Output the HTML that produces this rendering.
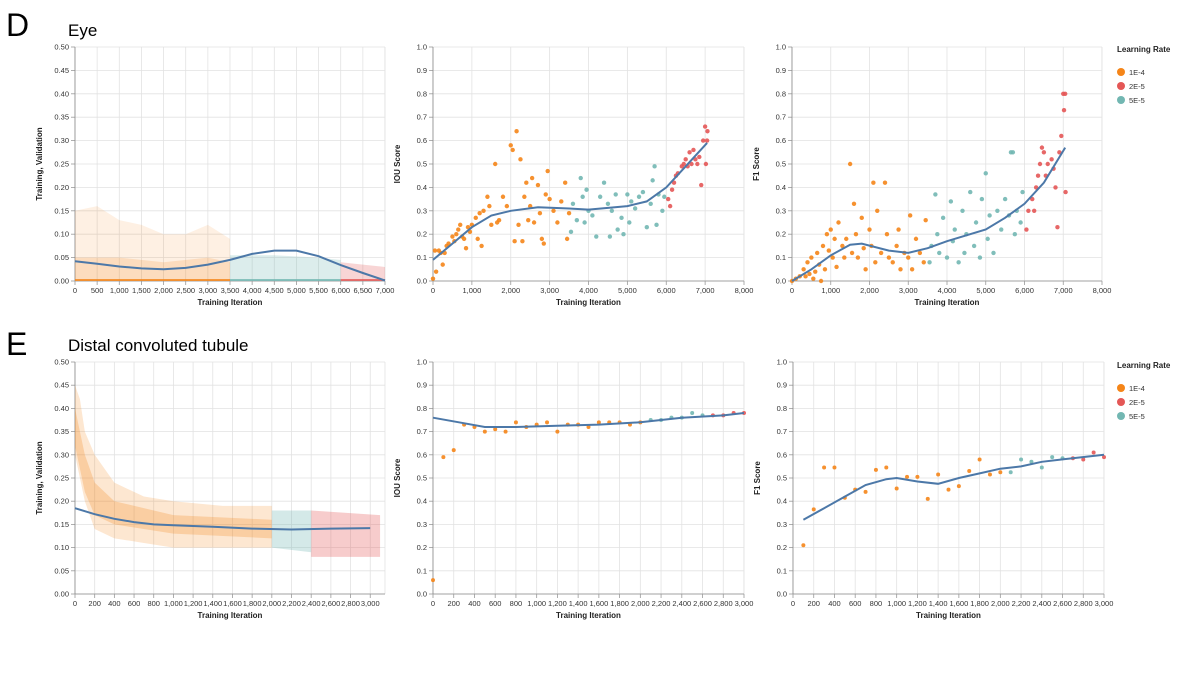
<!DOCTYPE html>
<html><head><meta charset="utf-8"><style>
body{margin:0;background:#fff;font-family:"Liberation Sans",Arial,sans-serif}
svg text{font-family:"Liberation Sans",Arial,sans-serif}
</style></head><body>
<svg id="c" width="1199" height="670" viewBox="0 0 1199 670">
<text x="6" y="36" font-size="32" fill="#000">D</text>
<text x="68" y="36" font-size="17" fill="#000">Eye</text>
<text x="6" y="355" font-size="32" fill="#000">E</text>
<text x="68" y="351" font-size="17" fill="#000">Distal convoluted tubule</text>
</svg>
<script>
// ---------- data ----------
const lrLabels=["1E-4","2E-5","5E-5"];
// Eye loss envelopes: [x, low, high]
const eyeLossOrange=[[0,0,0.15],[500,0,0.16],[1000,0,0.13],[1500,0,0.12],[2000,0,0.1],[2500,0,0.1],[3000,0,0.12],[3500,0,0.09]];
const eyeLossOrangeCore=[[0,0,0.05],[1000,0,0.05],[2000,0,0.04],[3000,0,0.05],[3500,0,0.04]];
const eyeLossTeal=[[3500,0,0.055],[4500,0,0.055],[5500,0,0.05],[6000,0,0.045]];
const eyeLossRed=[[6000,0,0.04],[6500,0,0.035],[7000,0,0.03]];
const eyeLossTrendX=[0,500,1000,1500,2000,2500,3000,3500,4000,4500,5000,5500,6000,6500,7000];
const eyeLossTrendY=[0.042,0.037,0.031,0.027,0.025,0.028,0.035,0.045,0.058,0.065,0.065,0.053,0.034,0.017,0.001];
// Distal loss envelopes
const dctLossOrange=[[0,0.3,0.45],[50,0.25,0.42],[100,0.2,0.35],[200,0.14,0.3],[400,0.12,0.24],[700,0.11,0.21],[1000,0.1,0.2],[1500,0.1,0.19],[2000,0.1,0.19]];
const dctLossOrangeCore=[[0,0.32,0.4],[100,0.22,0.3],[200,0.17,0.24],[400,0.15,0.2],[1000,0.13,0.17],[2000,0.12,0.16]];
const dctLossTeal=[[2000,0.1,0.18],[2400,0.09,0.18]];
const dctLossRed=[[2400,0.08,0.18],[3100,0.08,0.17]];
const dctLossTrendX=[0,200,400,600,800,1000,1400,1800,2200,2600,3000];
const dctLossTrendY=[0.185,0.172,0.162,0.155,0.15,0.148,0.145,0.141,0.139,0.141,0.142];
// Eye IOU scatter
const eyeIouOrange=[[0,0.01],[50,0.13],[80,0.04],[150,0.13],[200,0.12],[250,0.07],[300,0.12],[350,0.15],[400,0.16],[500,0.19],[550,0.17],[600,0.2],[650,0.22],[700,0.24],[750,0.19],[800,0.18],[850,0.14],[900,0.23],[950,0.21],[1000,0.24],[1100,0.27],[1150,0.18],[1200,0.29],[1250,0.15],[1300,0.3],[1400,0.36],[1450,0.32],[1500,0.24],[1600,0.5],[1650,0.25],[1700,0.26],[1800,0.36],[1900,0.32],[2000,0.58],[2050,0.56],[2100,0.17],[2150,0.64],[2200,0.24],[2250,0.52],[2300,0.17],[2350,0.36],[2400,0.42],[2450,0.26],[2500,0.32],[2550,0.44],[2600,0.25],[2700,0.41],[2750,0.29],[2800,0.18],[2850,0.16],[2900,0.37],[2950,0.47],[3000,0.35],[3100,0.3],[3200,0.25],[3300,0.34],[3400,0.42],[3450,0.18],[3500,0.29]];
const eyeIouTeal=[[3550,0.21],[3600,0.33],[3700,0.26],[3800,0.44],[3850,0.36],[3900,0.25],[3950,0.39],[4000,0.3],[4100,0.28],[4200,0.19],[4300,0.36],[4400,0.42],[4500,0.33],[4550,0.19],[4600,0.3],[4700,0.37],[4750,0.22],[4850,0.27],[4900,0.2],[5000,0.37],[5050,0.25],[5100,0.34],[5200,0.31],[5300,0.36],[5400,0.38],[5500,0.23],[5600,0.33],[5650,0.43],[5700,0.49],[5750,0.24],[5800,0.37],[5900,0.3],[5950,0.36]];
const eyeIouRed=[[6050,0.35],[6100,0.32],[6150,0.39],[6200,0.42],[6250,0.45],[6300,0.46],[6400,0.49],[6450,0.5],[6500,0.52],[6550,0.49],[6600,0.55],[6650,0.5],[6700,0.56],[6750,0.52],[6800,0.5],[6850,0.53],[6900,0.41],[6950,0.6],[7000,0.66],[7050,0.6],[7020,0.5],[7060,0.64]];
const eyeIouTrendX=[0,500,1000,1500,2000,2700,3500,4000,5000,5500,6000,6500,7050];
const eyeIouTrendY=[0.09,0.16,0.23,0.28,0.30,0.315,0.31,0.305,0.32,0.34,0.40,0.49,0.59];
// Eye F1 scatter
const eyeF1Orange=[[0,0],[100,0.01],[200,0.02],[300,0.05],[350,0.02],[400,0.08],[450,0.03],[500,0.1],[550,0.01],[600,0.04],[650,0.12],[700,0.07],[750,0.0],[800,0.15],[850,0.05],[900,0.2],[950,0.13],[1000,0.22],[1050,0.1],[1100,0.18],[1150,0.06],[1200,0.25],[1300,0.15],[1350,0.1],[1400,0.18],[1500,0.5],[1550,0.12],[1600,0.33],[1650,0.2],[1700,0.1],[1800,0.27],[1850,0.14],[1900,0.05],[2000,0.22],[2050,0.15],[2100,0.42],[2150,0.08],[2200,0.3],[2300,0.12],[2400,0.42],[2450,0.2],[2500,0.1],[2600,0.08],[2700,0.15],[2750,0.22],[2800,0.05],[2900,0.12],[3000,0.1],[3050,0.28],[3100,0.05],[3200,0.18],[3300,0.12],[3400,0.08],[3450,0.26]];
const eyeF1Teal=[[3550,0.08],[3600,0.15],[3700,0.37],[3750,0.2],[3800,0.12],[3900,0.27],[4000,0.1],[4100,0.34],[4150,0.17],[4200,0.22],[4300,0.08],[4400,0.3],[4450,0.12],[4500,0.2],[4600,0.38],[4700,0.15],[4750,0.25],[4850,0.1],[4900,0.35],[5000,0.46],[5050,0.18],[5100,0.28],[5200,0.12],[5300,0.3],[5400,0.22],[5500,0.35],[5600,0.28],[5650,0.55],[5700,0.55],[5750,0.2],[5800,0.3],[5900,0.25],[5950,0.38]];
const eyeF1Red=[[6050,0.22],[6100,0.3],[6200,0.35],[6250,0.3],[6300,0.4],[6350,0.45],[6400,0.5],[6450,0.57],[6500,0.55],[6550,0.45],[6600,0.5],[6700,0.52],[6750,0.48],[6800,0.4],[6850,0.23],[6900,0.55],[6950,0.62],[7000,0.8],[7050,0.8],[7020,0.73],[7060,0.38]];
const eyeF1TrendX=[0,500,1000,1500,1800,2500,3000,3500,4000,5000,5500,6000,6500,7050];
const eyeF1TrendY=[0.0,0.05,0.11,0.155,0.16,0.13,0.12,0.14,0.17,0.22,0.27,0.33,0.42,0.57];
// Distal IOU
const dctIouOrange=[[0,0.06],[100,0.59],[200,0.62],[300,0.73],[400,0.72],[500,0.7],[600,0.71],[700,0.7],[800,0.74],[900,0.72],[1000,0.73],[1100,0.74],[1200,0.7],[1300,0.73],[1400,0.73],[1500,0.72],[1600,0.74],[1700,0.74],[1800,0.74],[1900,0.73],[2000,0.74]];
const dctIouTeal=[[2100,0.75],[2200,0.75],[2300,0.76],[2400,0.76],[2500,0.78],[2600,0.77]];
const dctIouRed=[[2700,0.77],[2800,0.77],[2900,0.78],[3000,0.78]];
const dctIouTrendX=[0,250,500,800,1200,1600,2000,2400,2800,3000];
const dctIouTrendY=[0.76,0.74,0.72,0.72,0.725,0.73,0.74,0.76,0.77,0.78];
// Distal F1
const dctF1Orange=[[100,0.21],[200,0.365],[300,0.545],[400,0.545],[500,0.415],[600,0.45],[700,0.44],[800,0.535],[900,0.545],[1000,0.455],[1100,0.505],[1200,0.505],[1300,0.41],[1400,0.515],[1500,0.45],[1600,0.465],[1700,0.53],[1800,0.58],[1900,0.515],[2000,0.525]];
const dctF1Teal=[[2100,0.525],[2200,0.58],[2300,0.57],[2400,0.545],[2500,0.59],[2600,0.585]];
const dctF1Red=[[2700,0.585],[2800,0.58],[2900,0.61],[3000,0.59]];
const dctF1TrendX=[100,300,500,700,900,1000,1200,1400,1600,1800,2000,2200,2400,2600,3000];
const dctF1TrendY=[0.32,0.37,0.42,0.47,0.495,0.5,0.485,0.475,0.5,0.52,0.54,0.55,0.57,0.58,0.6];

const C={o:"#f58518",r:"#e45756",t:"#72b7b2",line:"#4c78a8"};
const svg=document.getElementById('c');
const NS="http://www.w3.org/2000/svg";
function mk(tag,attrs,parent){const e=document.createElementNS(NS,tag);for(const k in attrs)e.setAttribute(k,attrs[k]);(parent||svg).appendChild(e);return e;}
function fmt(v){return v.toLocaleString('en-US');}

function panel(p){
  const g=mk('g',{});
  
  
  const sx=v=>p.x0+(v-p.xd[0])/(p.xd[1]-p.xd[0])*(p.x1-p.x0);
  const sy=v=>p.y0-(v-p.yd[0])/(p.yd[1]-p.yd[0])*(p.y0-p.y1);
  for(let v=p.xd[0];v<=p.xTickMax+1e-9;v+=p.xStep){
    const x=sx(v);
    mk('line',{x1:x,x2:x,y1:p.y1,y2:p.y0,stroke:"#e2e2e2","stroke-width":0.8},g);
    mk('line',{x1:x,x2:x,y1:p.y0,y2:p.y0+4,stroke:"#999","stroke-width":0.8},g);
    const t=mk('text',{x:x,y:p.y0+12,"font-size":7.5,"text-anchor":"middle",fill:"#333"},g);t.textContent=fmt(v);
    
    
  }
  mk('line',{x1:p.x1,x2:p.x1,y1:p.y1,y2:p.y0,stroke:"#e2e2e2","stroke-width":0.8},g);
  const ny=Math.round((p.yd[1]-p.yd[0])/p.yStep);
  for(let i=0;i<=ny;i++){
    const v=p.yd[0]+i*p.yStep,y=sy(v);
    mk('line',{x1:p.x0,x2:p.x1,y1:y,y2:y,stroke:"#e2e2e2","stroke-width":0.8},g);
    mk('line',{x1:p.x0-4,x2:p.x0,y1:y,y2:y,stroke:"#999","stroke-width":0.8},g);
    const t=mk('text',{x:p.x0-6,y:y+2.5,"font-size":7.5,"text-anchor":"end",fill:"#333"},g);t.textContent=v.toFixed(p.yDec);
    
    
  }
  mk('line',{x1:p.x0,x2:p.x1,y1:p.y0,y2:p.y0,stroke:"#888","stroke-width":0.8},g);
  mk('line',{x1:p.x0,x2:p.x0,y1:p.y1,y2:p.y0,stroke:"#888","stroke-width":0.8},g);
  const xt=mk('text',{x:(p.x0+p.x1)/2,y:p.y0+24,"font-size":8,"font-weight":"bold","text-anchor":"middle",fill:"#222"},g);xt.textContent="Training Iteration";
  
  
  const yc=(p.y0+p.y1)/2;
  const yt=mk('text',{x:p.x0-33,y:yc,"font-size":8,"font-weight":"bold","text-anchor":"middle",fill:"#222",transform:`rotate(-90 ${p.x0-33} ${yc})`},g);yt.textContent=p.yTitle;
  
  
  (p.bands||[]).forEach(b=>{
    let pts=b.d.map(d=>sx(d[0])+","+sy(d[2]));
    pts=pts.concat(b.d.slice().reverse().map(d=>sx(d[0])+","+sy(d[1])));
    const pg=mk('polygon',{points:pts.join(" "),fill:b.c,"fill-opacity":b.o},g);
    
    
    if(b.floor){
      const base=mk('line',{x1:sx(b.d[0][0]),x2:sx(b.d[b.d.length-1][0]),y1:sy(0)-1,y2:sy(0)-1,stroke:b.c,"stroke-width":2,"stroke-opacity":0.8},g);
      
      
    }
  });
  (p.pts||[]).forEach(s=>{
    s.d.forEach(d=>{
      const c=mk('circle',{cx:sx(d[0]),cy:sy(d[1]),r:p.r||2.2,fill:s.c,"fill-opacity":0.9},g);
      
      
    });
  });
  const path=p.tx.map((x,i)=>(i?"L":"M")+sx(x).toFixed(1)+","+sy(p.ty[i]).toFixed(1)).join("");
  const ln=mk('path',{d:path,fill:"none",stroke:C.line,"stroke-width":2},g);
  
  
}
function legend(x,y){
  const g=mk('g',{});
  
  
  const t=mk('text',{x:x,y:y,"font-size":8,"font-weight":"bold",fill:"#222"},g);t.textContent="Learning Rate";
  [C.o,C.r,C.t].forEach((c,i)=>{
    const e=mk('circle',{cx:x+4,cy:y+20+i*14,r:4,fill:c},g);
    
    
    const l=mk('text',{x:x+12,y:y+23+i*14,"font-size":7.5,fill:"#333"},g);l.textContent=lrLabels[i];
    
    
  });
}
const top1={y0:281,y1:47},top2={y0:594,y1:362};
panel(Object.assign({name:"eye-loss-chart",x0:75,x1:385,xd:[0,7000],xTickMax:7000,xStep:500,yd:[0,0.5],yStep:0.05,yDec:2,yTitle:"Training, Validation",
  bands:[{d:eyeLossOrange,c:C.o,o:0.12,floor:true},{d:eyeLossOrangeCore,c:C.o,o:0.18},{d:eyeLossTeal,c:C.t,o:0.25,floor:true},{d:eyeLossRed,c:C.r,o:0.25,floor:true}],tx:eyeLossTrendX,ty:eyeLossTrendY},top1));
panel(Object.assign({name:"eye-iou-chart",x0:433,x1:744,xd:[0,8000],xTickMax:8000,xStep:1000,yd:[0,1],yStep:0.1,yDec:1,yTitle:"IOU Score",
  pts:[{d:eyeIouOrange,c:C.o},{d:eyeIouTeal,c:C.t},{d:eyeIouRed,c:C.r}],tx:eyeIouTrendX,ty:eyeIouTrendY},top1));
panel(Object.assign({name:"eye-f1-chart",x0:792,x1:1102,xd:[0,8000],xTickMax:8000,xStep:1000,yd:[0,1],yStep:0.1,yDec:1,yTitle:"F1 Score",
  pts:[{d:eyeF1Orange,c:C.o},{d:eyeF1Teal,c:C.t},{d:eyeF1Red,c:C.r}],tx:eyeF1TrendX,ty:eyeF1TrendY},top1));
panel(Object.assign({name:"distal-loss-chart",x0:75,x1:385,xd:[0,3150],xTickMax:3000,xStep:200,yd:[0,0.5],yStep:0.05,yDec:2,yTitle:"Training, Validation",
  bands:[{d:dctLossOrange,c:C.o,o:0.2},{d:dctLossOrangeCore,c:C.o,o:0.25},{d:dctLossTeal,c:C.t,o:0.3},{d:dctLossRed,c:C.r,o:0.3}],tx:dctLossTrendX,ty:dctLossTrendY},top2));
panel(Object.assign({name:"distal-iou-chart",x0:433,x1:744,xd:[0,3000],xTickMax:3000,xStep:200,yd:[0,1],yStep:0.1,yDec:1,yTitle:"IOU Score",r:2,
  pts:[{d:dctIouOrange,c:C.o},{d:dctIouTeal,c:C.t},{d:dctIouRed,c:C.r}],tx:dctIouTrendX,ty:dctIouTrendY},top2));
panel(Object.assign({name:"distal-f1-chart",x0:793,x1:1104,xd:[0,3000],xTickMax:3000,xStep:200,yd:[0,1],yStep:0.1,yDec:1,yTitle:"F1 Score",r:2,
  pts:[{d:dctF1Orange,c:C.o},{d:dctF1Teal,c:C.t},{d:dctF1Red,c:C.r}],tx:dctF1TrendX,ty:dctF1TrendY},top2));
legend(1117,52);
legend(1117,368);
</script>
</body></html>
